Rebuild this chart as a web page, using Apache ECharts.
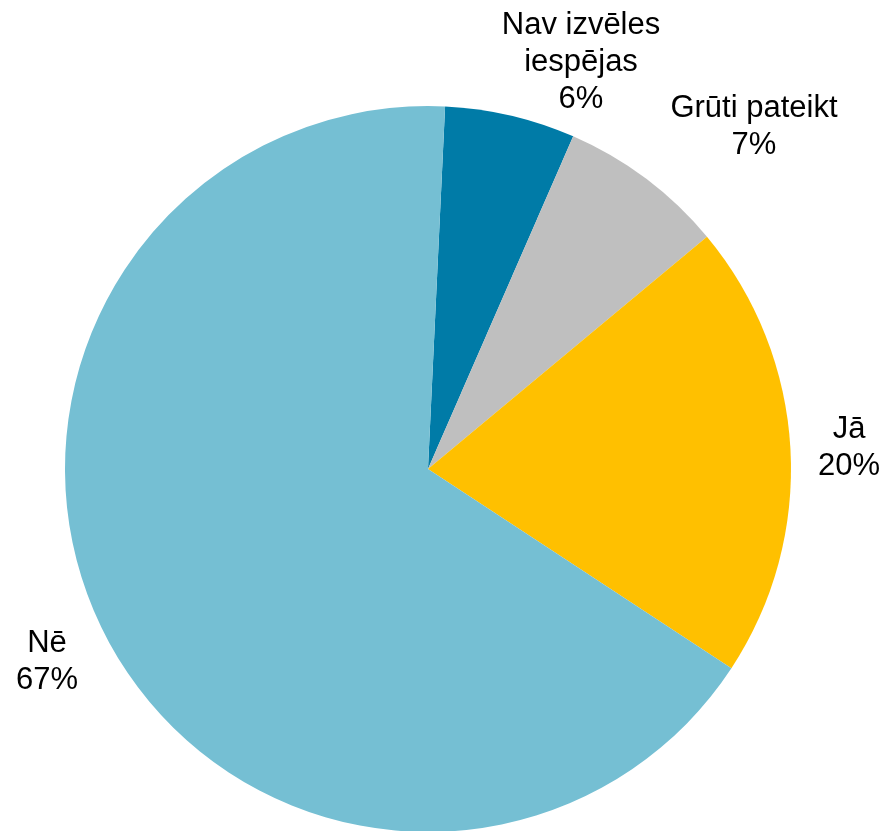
<!DOCTYPE html>
<html>
<head>
<meta charset="utf-8">
<script src="https://cdn.jsdelivr.net/npm/echarts@6/dist/echarts.min.js"></script>
<style>html,body{margin:0;padding:0;background:#fff;}#c{width:886px;height:831px;}</style>
</head>
<body>
<div id="c"></div>
<script>
var categories = ['Nav izvēles\niespējas', 'Grūti pateikt', 'Jā', 'Nē'];
var values = [5.8, 7.4, 20.3, 66.5];
var colors = ['#007BA7', '#BFBFBF', '#FFC000', '#75BFD3'];
// label anchor placement (layout styling)
var labelSpots = [[581, 62], [754, 127], [849, 448], [47, 662]];

var chart = echarts.init(document.getElementById('c'), null, {renderer: 'canvas'});
chart.setOption({
  animation: false,
  backgroundColor: '#ffffff',
  series: [{
    type: 'pie',
    center: [428, 469],
    radius: [0, 363],
    startAngle: 87.3,
    clockwise: true,
    percentPrecision: 0,
    data: categories.map(function (c, i) {
      return {name: c, value: values[i], itemStyle: {color: colors[i]}};
    }),
    itemStyle: {borderWidth: 0},
    label: {
      show: true,
      position: 'outside',
      formatter: '{b}\n{d}%',
      fontFamily: 'Liberation Sans, Arial, sans-serif',
      fontSize: 31,
      lineHeight: 37,
      color: '#000000',
      align: 'center',
      overflow: 'none',
      width: 300
    },
    labelLine: {show: false},
    labelLayout: function (p) {
      var s = labelSpots[p.dataIndex];
      return {x: s[0], y: s[1], align: 'center', verticalAlign: 'middle'};
    },
    emphasis: {disabled: true}
  }]
});
</script>
</body>
</html>
